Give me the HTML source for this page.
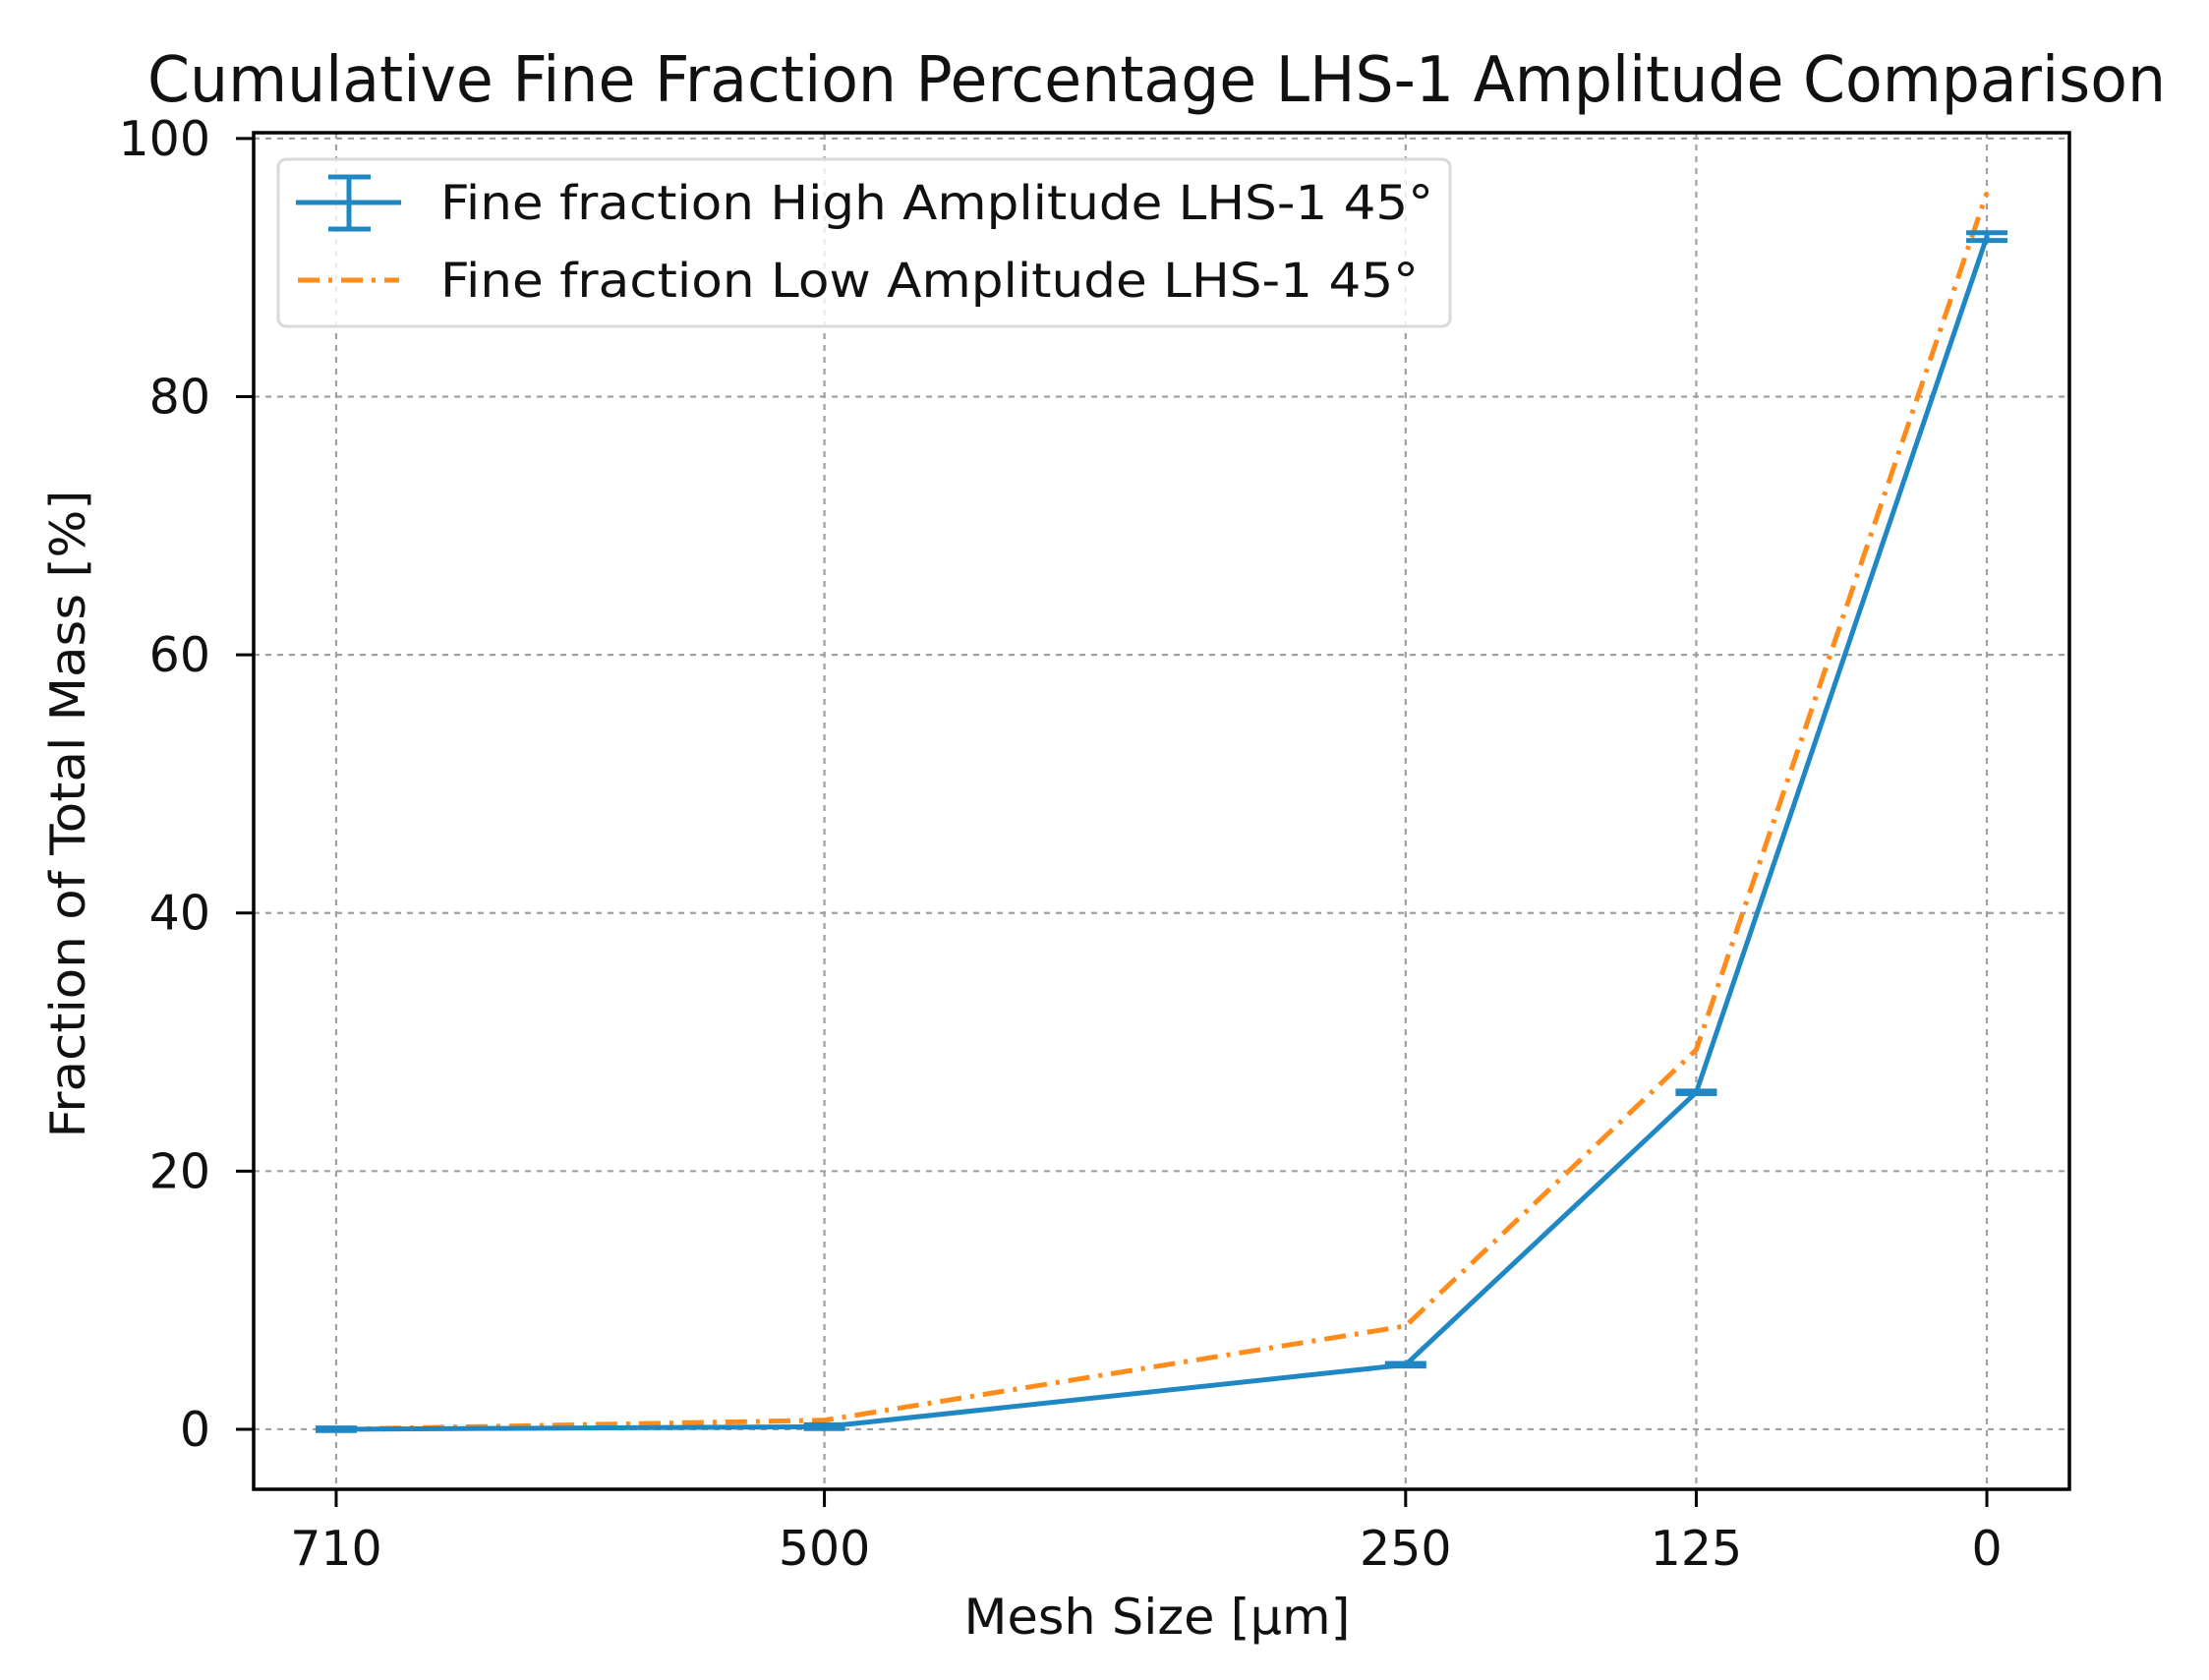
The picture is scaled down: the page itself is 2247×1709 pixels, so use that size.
<!DOCTYPE html>
<html><head><meta charset="utf-8"><style>html,body{margin:0;padding:0;background:#fff}svg{display:block}text{font-family:"DejaVu Sans","Liberation Sans",sans-serif;fill:#111}</style></head>
<body>
<svg id="chart" width="2247" height="1709" viewBox="0 0 2247 1709" xmlns="http://www.w3.org/2000/svg">
<rect width="2247" height="1709" fill="#fff"/>
<text x="150" y="103" font-size="64" textLength="2053" lengthAdjust="spacingAndGlyphs">Cumulative Fine Fraction Percentage LHS-1 Amplitude Comparison</text>
<g id="grid"></g>
<g id="series"></g>
<rect x="258" y="135" width="1847" height="1380" fill="none" stroke="#000" stroke-width="3.5"/>
<g id="axes"></g>
<text transform="translate(86,828) rotate(-90)" text-anchor="middle" font-size="49" textLength="659" lengthAdjust="spacingAndGlyphs">Fraction of Total Mass [%]</text>
<text x="1177" y="1662" text-anchor="middle" font-size="50" textLength="393" lengthAdjust="spacingAndGlyphs">Mesh Size [µm]</text>
<g>
<rect x="283" y="162" width="1192" height="170" rx="8" fill="#fff" fill-opacity="0.8" stroke="#d9d9d9" stroke-width="3"/>
<g>
<line x1="301" y1="206" x2="408" y2="206" stroke="#1f88c4" stroke-width="5"/>
<line x1="355" y1="180" x2="355" y2="233" stroke="#1f88c4" stroke-width="5"/>
<line x1="334" y1="180" x2="377" y2="180" stroke="#1f88c4" stroke-width="5"/>
<line x1="334" y1="233" x2="377" y2="233" stroke="#1f88c4" stroke-width="5"/>
<text x="448" y="223" font-size="48" textLength="1010" lengthAdjust="spacingAndGlyphs">Fine fraction High Amplitude LHS-1 45°</text>
</g>
<g>
<line x1="303" y1="285" x2="406" y2="285" stroke="#ff8c1a" stroke-width="5" stroke-dasharray="22,9,4,9"/>
<text x="448" y="302" font-size="48" textLength="995" lengthAdjust="spacingAndGlyphs">Fine fraction Low Amplitude LHS-1 45°</text>
</g>
</g>
</svg>
<script>
const categories = [710, 500, 250, 125, 0];
const xTickLabels = ["710", "500", "250", "125", "0"];
const highValues = [0, 0.2, 5.0, 26.1, 92.4];
const highErrors = [0.1, 0.15, 0.1, 0.1, 0.3];
const lowValues = [0, 0.7, 8.0, 29.4, 95.8];
const yTicks = [0, 20, 40, 60, 80, 100];

const L = 258, R = 2105, T = 135, B = 1515;
const xMin = 745.5, xMax = -35.5, yMin = -4.65, yMax = 100.45;
const xs = v => L + (v - xMin) / (xMax - xMin) * (R - L);
const ys = v => B - (v - yMin) / (yMax - yMin) * (B - T);
const NS = "http://www.w3.org/2000/svg";
function mk(tag, attrs, parent) {
  const e = document.createElementNS(NS, tag);
  for (const k in attrs) e.setAttribute(k, attrs[k]);
  parent.appendChild(e);
  return e;
}
const grid = document.getElementById('grid');
const axes = document.getElementById('axes');
const series = document.getElementById('series');

categories.forEach((c, i) => {
  const x = xs(c);
  const g = mk('line', {x1: x, y1: T, x2: x, y2: B, stroke: '#a0a0a0', 'stroke-width': 2.2, 'stroke-dasharray': '6,6'}, grid);
  
  
  const t = mk('line', {x1: x, y1: B, x2: x, y2: B + 18, stroke: '#000', 'stroke-width': 3}, axes);
  
  
  const lb = mk('text', {x: x, y: 1592, 'text-anchor': 'middle', 'font-size': 49}, axes);
  lb.textContent = xTickLabels[i];
  
  
});
yTicks.forEach(v => {
  const y = ys(v);
  const g = mk('line', {x1: L, y1: y, x2: R, y2: y, stroke: '#a0a0a0', 'stroke-width': 2.2, 'stroke-dasharray': '6,6'}, grid);
  
  
  const t = mk('line', {x1: L - 18, y1: y, x2: L, y2: y, stroke: '#000', 'stroke-width': 3}, axes);
  
  
  const lb = mk('text', {x: 214, y: y + 17, 'text-anchor': 'end', 'font-size': 49}, axes);
  lb.textContent = String(v);
  
  
});

const lowPts = categories.map((c, i) => xs(c) + ',' + ys(lowValues[i])).join(' ');
const low = mk('polyline', {points: lowPts, fill: 'none', stroke: '#ff8c1a', 'stroke-width': 5, 'stroke-dasharray': '22,9,4,9'}, series);



const highPts = categories.map((c, i) => xs(c) + ',' + ys(highValues[i])).join(' ');
const high = mk('polyline', {points: highPts, fill: 'none', stroke: '#1f88c4', 'stroke-width': 5}, series);



categories.forEach((c, i) => {
  const x = xs(c), y1 = ys(highValues[i] - highErrors[i]), y2 = ys(highValues[i] + highErrors[i]);
  const eb = mk('g', {}, series);
  
  
  mk('line', {x1: x, y1: y1, x2: x, y2: y2, stroke: '#1f88c4', 'stroke-width': 5}, eb);
  mk('line', {x1: x - 21, y1: y1, x2: x + 21, y2: y1, stroke: '#1f88c4', 'stroke-width': 5}, eb);
  mk('line', {x1: x - 21, y1: y2, x2: x + 21, y2: y2, stroke: '#1f88c4', 'stroke-width': 5}, eb);
});
</script>
</body></html>
